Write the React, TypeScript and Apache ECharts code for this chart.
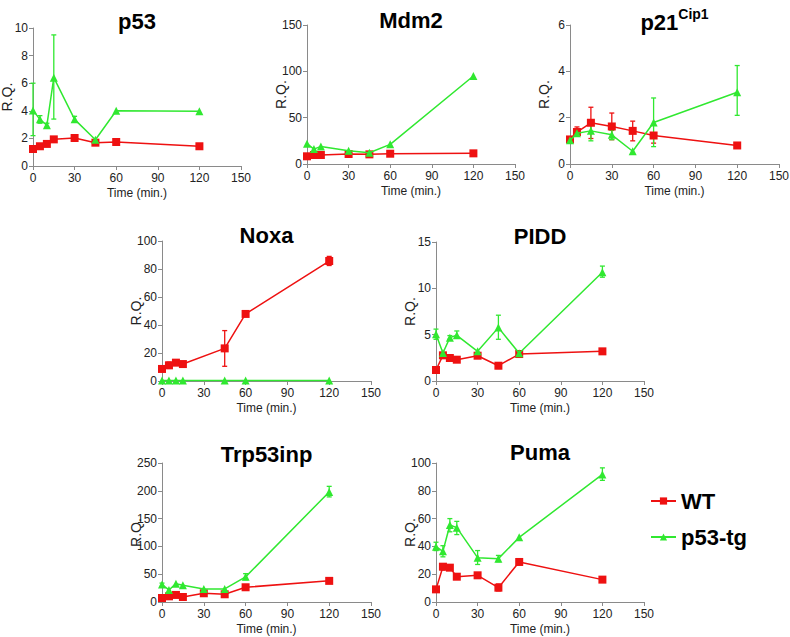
import React, { useEffect, useRef } from "react";
import * as echarts from "echarts";

const RED = "#ee1111";
const GREEN = "#30e830";
const FONT = "'Liberation Sans', Arial, Helvetica, sans-serif";

// time points (min.)
const timeFull = [0, 5, 10, 15, 30, 45, 60, 120];
const timeMdm2 = [0, 5, 10, 30, 45, 60, 120];
const timeP21 = [0, 5, 15, 30, 45, 60, 120];
const timeNoxa = [0, 5, 10, 15, 45, 60, 120];

const xTicks = [0, 30, 60, 90, 120, 150];

// p53
const p53WT = [1.23, 1.43, 1.6, 1.93, 2.03, 1.69, 1.74, 1.43];
const p53TG = [4.03, 3.38, 2.95, 6.4, 3.38, 1.9, 4.0, 3.96];
const p53WTErr: number[][] = [];
const p53TGErr = [[0, 2.2, 6.0], [5, 3.1, 3.65], [10, 2.8, 3.1], [15, 3.4, 9.5], [30, 3.2, 3.6]];

// Mdm2
const mdm2WT = [8.3, 9.7, 9.7, 10.8, 10.4, 11.1, 11.5];
const mdm2TG = [21.9, 16.1, 19.0, 14.4, 12.2, 21.2, 95.0];
const mdm2WTErr: number[][] = [];
const mdm2TGErr: number[][] = [];

// p21Cip1
const p21WT = [1.06, 1.38, 1.78, 1.62, 1.43, 1.23, 0.8];
const p21TG = [1.02, 1.33, 1.43, 1.26, 0.55, 1.79, 3.1];
const p21WTErr = [[5, 1.2, 1.6], [15, 1.1, 2.45], [30, 1.05, 2.2], [45, 1.0, 1.85], [60, 0.9, 1.35]];
const p21TGErr = [[5, 1.2, 1.45], [15, 1.0, 1.85], [30, 1.05, 1.45], [60, 0.75, 2.85], [120, 2.1, 4.25]];

// Noxa
const noxaWT = [8.6, 11.2, 13.1, 12.1, 23.3, 47.9, 85.7];
const noxaTG = [0.3, 0.3, 0.3, 0.3, 0.3, 0.3, 0.3];
const noxaWTErr = [[5, 9, 13.5], [10, 11.5, 14.5], [45, 10.5, 36], [120, 82.5, 89]];
const noxaTGErr: number[][] = [];

// PIDD
const piddWT = [1.19, 2.77, 2.48, 2.3, 2.73, 1.65, 2.91, 3.2];
const piddTG = [5.04, 3.02, 4.68, 4.93, 3.2, 5.76, 2.99, 11.73];
const piddWTErr = [[45, 1.35, 1.95]];
const piddTGErr = [[0, 4.5, 5.6], [10, 4.5, 4.9], [15, 4.6, 5.4], [45, 4.5, 7.1], [120, 11.2, 12.4]];

// Trp53inp
const trpWT = [7.2, 10.2, 12.7, 9.0, 15.7, 13.9, 26.5, 38.0];
const trpTG = [31.3, 21.7, 33.0, 30.0, 23.5, 23.5, 45.2, 198.0];
const trpWTErr: number[][] = [];
const trpTGErr = [[0, 28, 34], [60, 40, 51], [120, 189, 208]];

// Puma
const pumaWT = [9.1, 25.4, 24.7, 18.2, 19.2, 10.3, 28.8, 16.1];
const pumaTG = [39.8, 36.5, 55.4, 53.5, 31.9, 31.2, 46.5, 91.8];
const pumaWTErr = [[5, 23, 27.5], [45, 8, 13]];
const pumaTGErr = [[0, 37, 43], [5, 32.5, 40.5], [10, 50.5, 60], [15, 48.5, 58], [30, 27, 37], [45, 29, 33.5], [120, 87.5, 96.5]];

const titles = ["p53", "Mdm2", "p21Cip1", "Noxa", "PIDD", "Trp53inp", "Puma"];
const yMax = [10, 150, 6, 100, 15, 250, 100];
const yStep = [2, 50, 2, 20, 5, 50, 20];

const legendNames = ["WT", "p53-tg"];

const panelData = [
  { t: timeFull, wt: p53WT, tg: p53TG, wtErr: p53WTErr, tgErr: p53TGErr },
  { t: timeMdm2, wt: mdm2WT, tg: mdm2TG, wtErr: mdm2WTErr, tgErr: mdm2TGErr },
  { t: timeP21, wt: p21WT, tg: p21TG, wtErr: p21WTErr, tgErr: p21TGErr },
  { t: timeNoxa, wt: noxaWT, tg: noxaTG, wtErr: noxaWTErr, tgErr: noxaTGErr },
  { t: timeFull, wt: piddWT, tg: piddTG, wtErr: piddWTErr, tgErr: piddTGErr },
  { t: timeFull, wt: trpWT, tg: trpTG, wtErr: trpWTErr, tgErr: trpTGErr },
  { t: timeFull, wt: pumaWT, tg: pumaTG, wtErr: pumaWTErr, tgErr: pumaTGErr },
];

// layout (px): left, top, width, height, title center y
const layout = [
  [33, 28, 208, 138, 21],
  [307, 25, 208, 139, 20],
  [570, 25, 209, 139, 20],
  [162, 241, 209, 140, 235],
  [436, 242, 208, 139, 236],
  [162, 463, 209, 139, 454],
  [436, 463, 208, 139, 452],
];

const AXIS_COLOR = "#8a8a8a";

function errSeries(data: number[][], color: string, idx: number) {
  return {
    type: "custom",
    xAxisIndex: idx,
    yAxisIndex: idx,
    silent: true,
    z: 3,
    encode: { x: 0, y: [1, 2] },
    data,
    renderItem: (params: any, api: any) => {
      const x = api.value(0);
      const lo = api.coord([x, api.value(1)]);
      const hi = api.coord([x, api.value(2)]);
      const cap = 2.5;
      const style = { stroke: color, lineWidth: 1.3 };
      return {
        type: "group",
        children: [
          { type: "line", shape: { x1: lo[0], y1: lo[1], x2: hi[0], y2: hi[1] }, style },
          { type: "line", shape: { x1: lo[0] - cap, y1: lo[1], x2: lo[0] + cap, y2: lo[1] }, style },
          { type: "line", shape: { x1: hi[0] - cap, y1: hi[1], x2: hi[0] + cap, y2: hi[1] }, style },
        ],
      };
    },
  };
}

export default function App() {
  const ref = useRef<HTMLDivElement>(null);
  useEffect(() => {
    document.body.style.margin = "0";
    if (!ref.current) return;
    const chart = echarts.init(ref.current, null, { renderer: "svg" });

    const grids: any[] = [];
    const xAxes: any[] = [];
    const yAxes: any[] = [];
    const series: any[] = [];
    const graphics: any[] = [];

    panelData.forEach((p, i) => {
      const [l, t, w, h, ty] = layout[i];
      grids.push({ left: l, top: t, width: w, height: h, outerBoundsMode: "none", containLabel: false });
      xAxes.push({
        type: "value",
        gridIndex: i,
        min: xTicks[0],
        max: xTicks[xTicks.length - 1],
        interval: 30,
        name: "Time (min.)",
        nameLocation: "middle",
        nameGap: 21,
        nameMoveOverlap: false,
        nameTextStyle: { fontSize: 12, color: "#222", fontFamily: FONT },
        axisLine: { show: true, onZero: false, lineStyle: { color: AXIS_COLOR, width: 1 } },
        axisTick: { show: true, length: 4, lineStyle: { color: AXIS_COLOR } },
        axisLabel: { margin: 6, fontSize: 12, color: "#222", fontFamily: FONT },
        splitLine: { show: false },
      });
      yAxes.push({
        type: "value",
        gridIndex: i,
        min: 0,
        max: yMax[i],
        interval: yStep[i],
        name: "R.Q.",
        nameLocation: "middle",
        nameRotate: 90,
        nameGap: 19,
        nameMoveOverlap: false,
        nameTextStyle: { fontSize: 14, color: "#222", fontFamily: FONT },
        axisLine: { show: true, lineStyle: { color: AXIS_COLOR, width: 1 } },
        axisTick: { show: true, length: 4, lineStyle: { color: AXIS_COLOR } },
        axisLabel: { margin: 5, fontSize: 12, color: "#222", fontFamily: FONT },
        splitLine: { show: false },
      });
      series.push(errSeries(p.wtErr, RED, i));
      series.push(errSeries(p.tgErr, GREEN, i));
      series.push({
        name: legendNames[0],
        type: "line",
        xAxisIndex: i,
        yAxisIndex: i,
        data: p.t.map((x, k) => [x, p.wt[k]]),
        symbol: "rect",
        symbolSize: 8,
        showAllSymbol: true,
        lineStyle: { color: RED, width: 1.5 },
        itemStyle: { color: RED },
        z: 4,
      });
      series.push({
        name: legendNames[1],
        type: "line",
        xAxisIndex: i,
        yAxisIndex: i,
        data: p.t.map((x, k) => [x, p.tg[k]]),
        symbol: "triangle",
        symbolSize: 8,
        showAllSymbol: true,
        lineStyle: { color: GREEN, width: 1.5 },
        itemStyle: { color: GREEN },
        z: 5,
      });
      const cx = l + w / 2;
      if (titles[i] === "p21Cip1") {
        graphics.push({
          type: "text",
          x: cx,
          y: ty,
          style: {
            text: "{a|p21}{b|Cip1}",
            textAlign: "center",
            textVerticalAlign: "middle",
            rich: {
              a: { fontSize: 22, fontWeight: "bold", fontFamily: FONT, fill: "#000", lineHeight: 26, verticalAlign: "bottom" },
              b: { fontSize: 14, fontWeight: "bold", fontFamily: FONT, fill: "#000", lineHeight: 14, verticalAlign: "top" },
            },
          },
        });
      } else {
        graphics.push({
          type: "text",
          x: cx,
          y: ty,
          style: {
            text: titles[i],
            textAlign: "center",
            textVerticalAlign: "middle",
            fontSize: 22,
            fontWeight: "bold",
            fontFamily: FONT,
            fill: "#000",
          },
        });
      }
    });

    chart.setOption({
      animation: false,
      textStyle: { fontFamily: FONT },
      grid: grids,
      xAxis: xAxes,
      yAxis: yAxes,
      series,
      graphic: graphics,
      legend: {
        data: legendNames,
        orient: "vertical",
        left: 645,
        top: 484,
        itemWidth: 25,
        itemHeight: 9,
        itemGap: 12,
        textStyle: { fontSize: 22, fontWeight: "bold", color: "#000", fontFamily: FONT, lineHeight: 24 },
        selectedMode: false,
      },
    });
    return () => chart.dispose();
  }, []);
  return <div ref={ref} style={{ width: 790, height: 637 }} />;
}
